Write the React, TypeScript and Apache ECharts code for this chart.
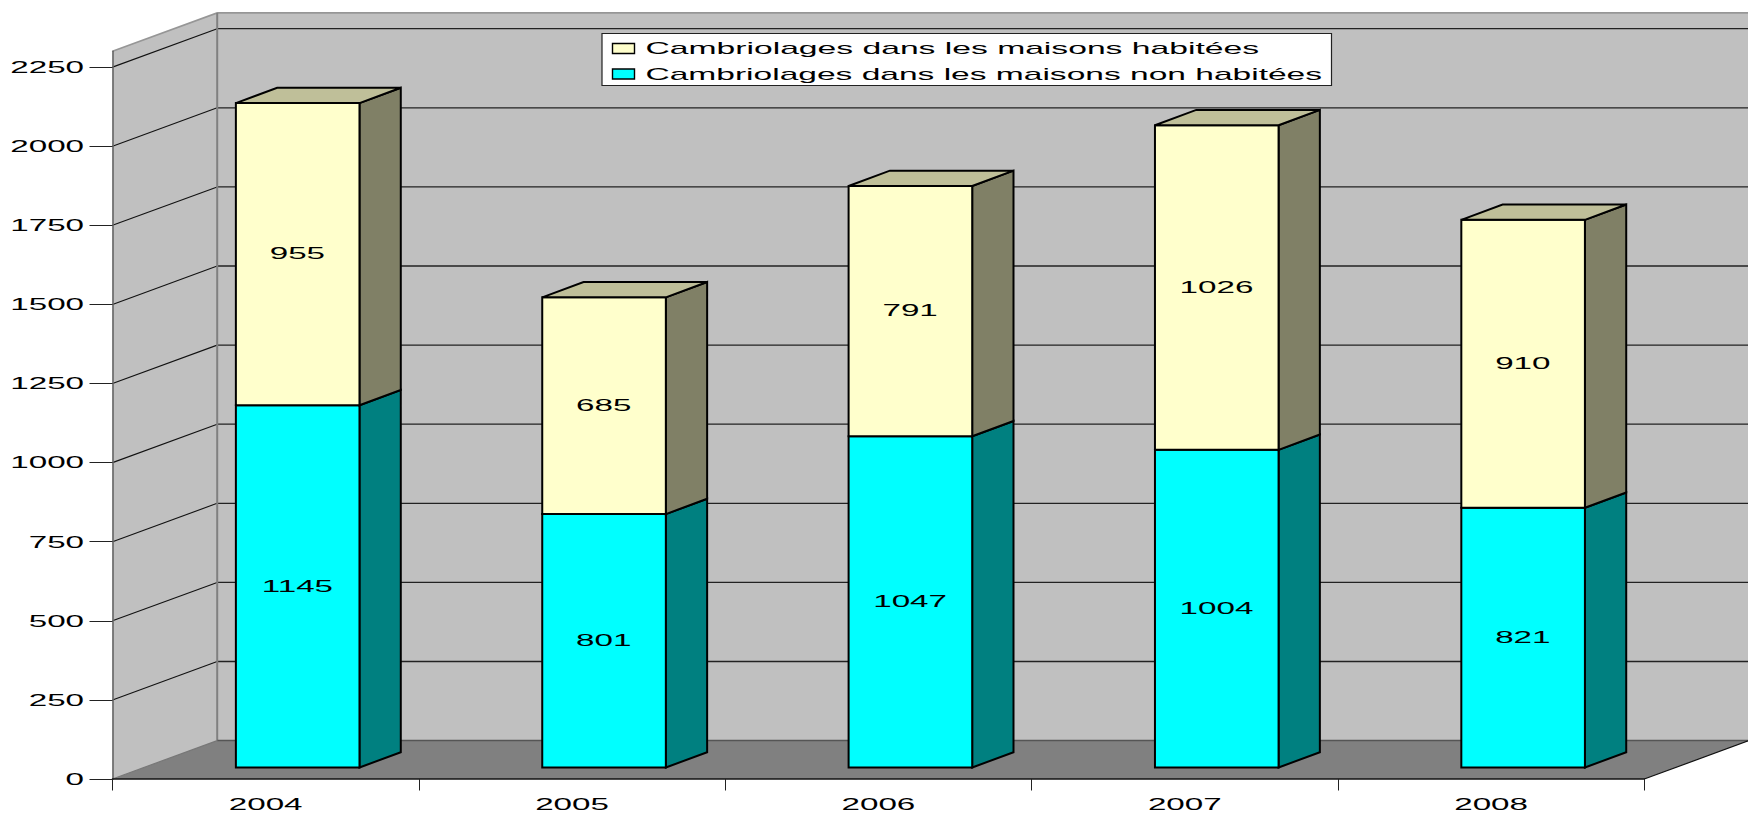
import React, { useEffect, useRef } from "react";
import * as echarts from "echarts";

const categories = ["2004", "2005", "2006", "2007", "2008"];
const nonHabitees = [1145, 801, 1047, 1004, 821];
const habitees = [955, 685, 791, 1026, 910];
const yTicks = [0, 250, 500, 750, 1000, 1250, 1500, 1750, 2000, 2250];
const nameHabitees = "Cambriolages dans les maisons habitées";
const nameNonHabitees = "Cambriolages dans les maisons non habitées";

const FONT = '17px "Liberation Sans", Arial, sans-serif';
const STRETCH = 1.95;
const WALL_DX = 104.7;
const WALL_DY = -38.4;
const BAR_BASE_DX = 32;
const BAR_BASE_DY = -11.5;
const BAR_DX = 41.3;
const BAR_DY = -15.3;
const BAR_WIDTH_RATIO = 123.6 / 306.36;

function stretchedText(text: string, x: number, y: number, align: string, scaleX: number = STRETCH) {
  return {
    type: "text",
    x,
    y,
    scaleX,
    silent: true,
    style: { text, x: 0, y: 0, font: FONT, fill: "#000", textAlign: align, textVerticalAlign: "middle" },
  };
}

function renderWalls(params: any, api: any) {
  const cs = params.coordSys;
  const x0 = cs.x;
  const x1 = cs.x + cs.width;
  const top = cs.y;
  const bottom = cs.y + cs.height;
  const bx0 = x0 + WALL_DX;
  const bx1 = x1 + WALL_DX;
  const children: any[] = [
    { type: "polygon", shape: { points: [[bx0, top + WALL_DY], [bx1, top + WALL_DY], [bx1, bottom + WALL_DY], [bx0, bottom + WALL_DY]] }, style: { fill: "#C0C0C0", stroke: "none" } },
    { type: "polygon", shape: { points: [[x0, top], [bx0, top + WALL_DY], [bx0, bottom + WALL_DY], [x0, bottom]] }, style: { fill: "#C0C0C0", stroke: "none" } },
    { type: "polygon", shape: { points: [[x0, bottom], [x1, bottom], [bx1, bottom + WALL_DY], [bx0, bottom + WALL_DY]] }, style: { fill: "#808080", stroke: "none" } },
  ];
  yTicks.forEach((v) => {
    const y = api.coord([0, v])[1];
    if (v === 0) return;
    children.push({ type: "line", shape: { x1: x0, y1: y, x2: bx0, y2: y + WALL_DY }, style: { stroke: "#111", lineWidth: 1.1 } });
    children.push({ type: "line", shape: { x1: bx0, y1: y + WALL_DY, x2: bx1, y2: y + WALL_DY }, style: { stroke: "#222", lineWidth: 1.3 } });
  });
  // Wall outlines
  children.push({ type: "polyline", shape: { points: [[x0, top], [bx0, top + WALL_DY], [bx1, top + WALL_DY]] }, style: { stroke: "#969696", lineWidth: 1.6, fill: "none" } });
  children.push({ type: "line", shape: { x1: bx0, y1: top + WALL_DY, x2: bx0, y2: bottom + WALL_DY }, style: { stroke: "#808080", lineWidth: 2 } });
  children.push({ type: "line", shape: { x1: bx0, y1: bottom + WALL_DY, x2: bx1, y2: bottom + WALL_DY }, style: { stroke: "#555", lineWidth: 1.5 } });
  children.push({ type: "line", shape: { x1: x0, y1: bottom, x2: bx0, y2: bottom + WALL_DY }, style: { stroke: "#777", lineWidth: 1.2 } });
  children.push({ type: "line", shape: { x1: x1, y1: bottom, x2: bx1, y2: bottom + WALL_DY }, style: { stroke: "#111", lineWidth: 1.2 } });
  return { type: "group", children };
}

function makeBarRenderer(front: string, side: string, withTop: boolean, topFill: string) {
  return (params: any, api: any) => {
    const i = api.value(0);
    const p0 = api.coord([i, api.value(1)]);
    const p1 = api.coord([i, api.value(2)]);
    const w = api.size([1, 0])[0] * BAR_WIDTH_RATIO;
    const l = p0[0] + BAR_BASE_DX - w / 2;
    const r = l + w;
    const b = p0[1] + BAR_BASE_DY;
    const t = p1[1] + BAR_BASE_DY;
    const st = { stroke: "#000", lineWidth: 2, lineJoin: "miter" };
    const children: any[] = [
      { type: "polygon", shape: { points: [[r, b], [r + BAR_DX, b + BAR_DY], [r + BAR_DX, t + BAR_DY], [r, t]] }, style: { ...st, fill: side } },
      { type: "rect", shape: { x: l, y: t, width: w, height: b - t }, style: { ...st, fill: front } },
    ];
    if (withTop) {
      children.push({ type: "polygon", shape: { points: [[l, t], [l + BAR_DX, t + BAR_DY], [r + BAR_DX, t + BAR_DY], [r, t]] }, style: { ...st, fill: topFill } });
    }
    return { type: "group", children };
  };
}

function renderBarLabel(params: any, api: any) {
  const i = api.value(0);
  const p0 = api.coord([i, api.value(1)]);
  const p1 = api.coord([i, api.value(2)]);
  return stretchedText(String(api.value(2) - api.value(1)), p0[0] + BAR_BASE_DX - 0.3, (p0[1] + p1[1]) / 2 + BAR_BASE_DY - 0.5, "center");
}

function renderYLabel(params: any, api: any) {
  const v = api.value(1);
  const p = api.coord([0, v]);
  return stretchedText(String(v), params.coordSys.x - 28.5, p[1], "right");
}

function renderXLabel(params: any, api: any) {
  const i = api.value(0);
  const p = api.coord([i, 0]);
  return stretchedText(categories[i], p[0], 804, "center");
}

const base = categories.map((_, i) => [i, 0, nonHabitees[i]]);
const stacked = categories.map((_, i) => [i, nonHabitees[i], nonHabitees[i] + habitees[i]]);

function buildOption(): any {
  return {
    animation: false,
    backgroundColor: "#FFFFFF",
    grid: { left: 112.5, top: 51.3, width: 1531.8, height: 727.7 },
    xAxis: {
      type: "category",
      data: categories,
      z: 3,
      axisLine: { lineStyle: { color: "#111", width: 1.5 } },
      axisTick: { show: true, alignWithLabel: false, length: 11.5, lineStyle: { color: "#222", width: 1 } },
      axisLabel: { show: false },
      splitLine: { show: false },
    },
    yAxis: {
      type: "value",
      min: 0,
      max: 2300,
      interval: 250,
      z: 3,
      axisLine: { show: true, lineStyle: { color: "#666", width: 1.6 } },
      axisTick: { show: true, length: 23, customValues: yTicks, lineStyle: { color: "#222", width: 1 } },
      axisLabel: { show: false },
      splitLine: { show: false },
    },
    graphic: {
      z: 50,
      elements: [
        {
          type: "group",
          z: 50,
          children: [
            { type: "rect", z: 50, shape: { x: 602, y: 33.5, width: 729.5, height: 52 }, style: { fill: "#FFF", stroke: "#222", lineWidth: 1.2 } },
            { type: "rect", z: 51, shape: { x: 612.5, y: 43.5, width: 22, height: 10 }, style: { fill: "#FFFFCC", stroke: "#000", lineWidth: 1.4 } },
            { type: "rect", z: 51, shape: { x: 612.5, y: 69, width: 22, height: 10 }, style: { fill: "#00FFFF", stroke: "#000", lineWidth: 1.4 } },
            { ...stretchedText(nameHabitees, 645.5, 48.5, "left", 1.98), z: 51 },
            { ...stretchedText(nameNonHabitees, 645.5, 74, "left", 1.973), z: 51 },
          ],
        },
      ],
    },
    series: [
      { type: "custom", name: "walls", z: 1, silent: true, data: [[0, 0]], encode: { x: 0, y: 1 }, renderItem: renderWalls },
      { type: "custom", name: nameNonHabitees, z: 4, data: base, encode: { x: 0, y: [1, 2] }, renderItem: makeBarRenderer("#00FFFF", "#008080", false, "#00C0C0") },
      { type: "custom", name: nameHabitees, z: 4, data: stacked, encode: { x: 0, y: [1, 2] }, renderItem: makeBarRenderer("#FFFFCC", "#808066", true, "#BFBF99") },
      { type: "custom", name: "labels1", z: 5, silent: true, data: base, encode: { x: 0, y: [1, 2] }, renderItem: renderBarLabel },
      { type: "custom", name: "labels2", z: 5, silent: true, data: stacked, encode: { x: 0, y: [1, 2] }, renderItem: renderBarLabel },
      { type: "custom", name: "yLabels", z: 5, silent: true, data: yTicks.map((v) => [0, v]), encode: { x: 0, y: 1 }, renderItem: renderYLabel },
      { type: "custom", name: "xLabels", z: 5, silent: true, data: categories.map((_, i) => [i, 0]), encode: { x: 0, y: 1 }, renderItem: renderXLabel },
    ],
  };
}

export default function App() {
  const ref = useRef<HTMLDivElement>(null);
  useEffect(() => {
    document.body.style.margin = "0";
    document.body.style.overflow = "hidden";
    const chart = echarts.init(ref.current!, null, { renderer: "svg", width: 1748, height: 822 });
    chart.setOption(buildOption());
    return () => chart.dispose();
  }, []);
  return <div ref={ref} style={{ position: "absolute", left: 0, top: 0, width: 1748, height: 822 }} />;
}
